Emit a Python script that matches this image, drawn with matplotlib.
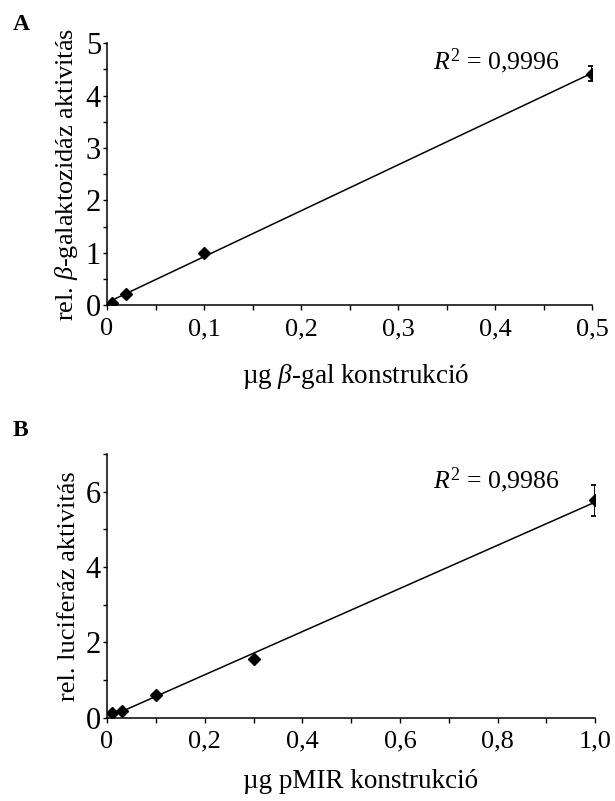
import numpy as np
import matplotlib
matplotlib.use("Agg")
import matplotlib.pyplot as plt
from matplotlib.ticker import MultipleLocator, FuncFormatter

plt.rcParams['font.family'] = ['Liberation Serif', 'DejaVu Serif']
plt.rcParams['mathtext.fontset'] = 'custom'
plt.rcParams['mathtext.rm'] = 'Liberation Serif'
plt.rcParams['mathtext.it'] = 'Liberation Serif:italic'

# A: beta-gal standard
gal_ug = [0.005, 0.02, 0.1, 0.5]
gal_act = [0.045, 0.22, 0.99, 4.42]
gal_err = [0.0, 0.0, 0.0, 0.15]
gal_r2 = "0,9996"

# B: pMIR luciferase standard
mir_ug = [0.01, 0.03, 0.1, 0.3, 1.0]
mir_act = [0.12, 0.17, 0.60, 1.56, 5.77]
mir_err = [0.0, 0.0, 0.0, 0.0, 0.41]
mir_r2 = "0,9986"

xfmt = FuncFormatter(lambda v, p: "0" if abs(v) < 1e-9 else f"{v:.1f}".replace(".", ","))
yfmt = FuncFormatter(lambda v, p: f"{v:.0f}")


def panel(ax, x, y, err, r2, xlim, ylim, xmaj, xmin, ymaj, ymin,
          xlabel, ylabel, r2pos, xlabpos):
    x = np.array(x); y = np.array(y)
    k, b = np.polyfit(x, y, 1)
    xs = np.array([x.min(), x.max()])
    ax.plot(xs, k * xs + b, color="black", lw=1.1, zorder=2)
    ax.errorbar(x, y, yerr=err, fmt="D", color="black", ms=6, capsize=2.8,
                elinewidth=1.3, capthick=1.3, zorder=3)
    ax.set_xlim(*xlim); ax.set_ylim(*ylim)
    for s in ("top", "right"):
        ax.spines[s].set_visible(False)
    for s in ("left", "bottom"):
        ax.spines[s].set_linewidth(1.1)
    ax.xaxis.set_major_locator(MultipleLocator(xmaj))
    ax.xaxis.set_minor_locator(MultipleLocator(xmin))
    ax.yaxis.set_major_locator(MultipleLocator(ymaj))
    ax.yaxis.set_minor_locator(MultipleLocator(ymin))
    ax.xaxis.set_major_formatter(xfmt)
    ax.yaxis.set_major_formatter(yfmt)
    ax.tick_params(which="both", direction="out", width=1.0)
    ax.tick_params(axis="x", which="both", length=3.8)
    ax.tick_params(axis="y", which="both", length=2.8)
    ax.tick_params(axis="x", labelsize=19, pad=5.5)
    ax.tick_params(axis="y", labelsize=22, pad=1.5)
    ax.set_xlabel(xlabel, fontsize=19.5, va="baseline")
    ax.xaxis.set_label_coords(*xlabpos)
    ax.set_ylabel(ylabel, fontsize=19, labelpad=4)
    ax.text(r2pos[0], r2pos[1], r"$\mathit{R}^{\mathrm{2}}$ = " + r2, fontsize=18.5,
            transform=ax.transAxes, ha="left", va="baseline")


fig = plt.figure(figsize=(6.15, 8.01), dpi=100)
axA = fig.add_axes([0.174, 0.619, 0.789, 0.327])
axB = fig.add_axes([0.174, 0.104, 0.794, 0.329])

panel(axA, gal_ug, gal_act, gal_err, gal_r2, (0, 0.5), (0, 5), 0.1, 0.05, 1, 0.5,
      r"µg $\mathit{\beta}$-gal konstrukció", r"rel. $\mathit{\beta}$-galaktozidáz aktivitás",
      (0.672, 0.90), (0.513, -0.298))

panel(axB, mir_ug, mir_act, mir_err, mir_r2, (0, 1.0), (0, 7), 0.2, 0.1, 2, 1,
      "µg pMIR konstrukció", "rel. luciferáz aktivitás",
      (0.668, 0.871), (0.52, -0.267))

fig.text(0.02, 0.9625, "A", fontsize=17, fontweight="bold", va="baseline")
fig.text(0.02, 0.4557, "B", fontsize=17, fontweight="bold", va="baseline")

fig.savefig("out.png", dpi=100)
